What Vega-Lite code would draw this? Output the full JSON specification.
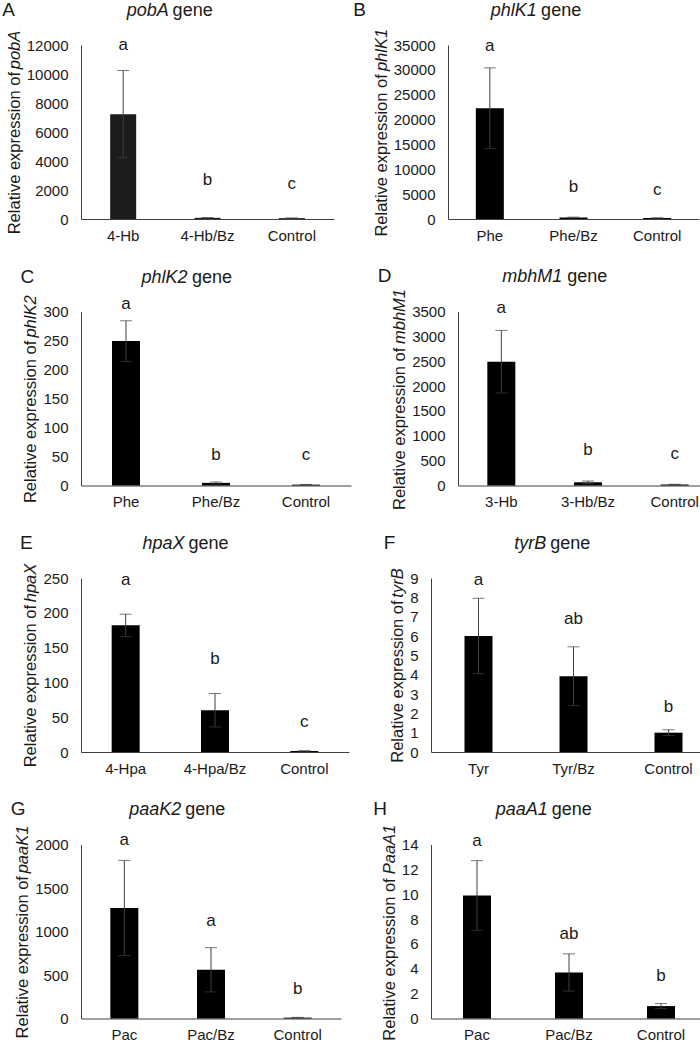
{
  "$schema": "https://vega.github.io/schema/vega-lite/v6.json",
  "padding": {"left": 2, "top": 0, "right": 0, "bottom": 0},
  "background": "white",
  "config": {
    "font": "Liberation Sans",
    "view": {"stroke": null},
    "axis": {"grid": false, "ticks": false, "domainColor": "#404040", "labelColor": "#1a1a1a", "titleColor": "#1a1a1a", "labelFontSize": 15, "titleFontSize": 16.5, "titleFontWeight": "normal", "labelFont": "Liberation Sans", "titleFont": "Liberation Sans"},
    "axisX": {"labelAngle": 0, "labelPadding": 9, "title": null},
    "axisY": {"labelPadding": 13, "titlePadding": 4},
    "title": {"font": "Liberation Sans", "fontWeight": "normal", "color": "#1a1a1a", "subtitleFont": "Liberation Sans", "subtitleColor": "#1a1a1a"}
  },
  "columns": 1,
  "align": "none",
  "spacing": 23.5,
  "concat": [
    {"spacing": 19, "hconcat": [
      {"title": {"text": "A", "anchor": "start", "frame": "bounds", "fontSize": 19, "offset": -18, "dx": -4},
       "vconcat": [{
        "width": 253, "height": 174,
        "title": {"text": "pobA\u00a0\u00a0\u00a0\u00a0\u00a0\u00a0\u00a0\u00a0\u00a0\u200b", "subtitle": "\u200b\u00a0\u00a0\u00a0\u00a0\u00a0\u00a0\u00a0\u00a0\u00a0gene", "fontStyle": "italic", "fontSize": 18, "subtitleFontSize": 18, "subtitleFontStyle": "normal", "subtitlePadding": -18, "frame": "bounds", "anchor": "middle", "offset": 10.5},
        "data": {"values": [
          {"treat": "4-Hb", "mean": 7230, "err": 3010, "sig": "a", "sigY": 12000},
          {"treat": "4-Hb/Bz", "mean": 80, "err": 20, "sig": "b", "sigY": 2710},
          {"treat": "Control", "mean": 60, "err": 10, "sig": "c", "sigY": 2430}
        ]},
        "encoding": {"x": {"field": "treat", "type": "nominal", "sort": null, "scale": {"paddingInner": 0.5, "paddingOuter": 0.25}}},
        "layer": [
          {"mark": {"type": "bar", "size": 26, "color": "#1c1c1c"},
           "encoding": {"y": {"field": "mean", "type": "quantitative", "scale": {"domain": [0, 12000], "nice": false}, "axis": {"values": [0, 2000, 4000, 6000, 8000, 10000, 12000], "format": "d", "title": "Relative expression of\u00a0\u00a0\u00a0\u00a0\u00a0\u00a0\u00a0\u00a0\u00a0\u200b"}}}},
          {"mark": {"type": "errorbar", "color": "#404040", "thickness": 1, "ticks": {"size": 12, "color": "#404040"}},
           "encoding": {"y": {"field": "mean", "type": "quantitative", "scale": {"domain": [0, 12000], "nice": false}, "axis": null}, "yError": {"field": "err"}}},
          {"mark": {"type": "text", "fontSize": 17, "baseline": "middle", "color": "#1a1a1a"},
           "encoding": {"y": {"field": "sigY", "type": "quantitative", "scale": {"domain": [0, 12000], "nice": false}, "axis": {"orient": "left", "values": [0, 2000, 4000, 6000, 8000, 10000, 12000], "format": "d", "labelOpacity": 0, "domain": false, "title": "\u200b\u00a0\u00a0\u00a0\u00a0\u00a0\u00a0\u00a0\u00a0\u00a0\u00a0\u00a0\u00a0\u00a0\u00a0\u00a0\u00a0\u00a0\u00a0\u00a0\u00a0\u00a0\u00a0\u00a0\u00a0\u00a0\u00a0\u00a0\u00a0\u00a0\u00a0\u00a0\u00a0\u00a0\u00a0\u00a0\u00a0pobA", "titleFontStyle": "italic"}}, "text": {"field": "sig"}}}
        ],
        "resolve": {"axis": {"y": "independent"}}
      }]},
      {"title": {"text": "B", "anchor": "start", "frame": "bounds", "fontSize": 19, "offset": -18, "dx": -20},
       "vconcat": [{
        "width": 251, "height": 174,
        "title": {"text": "phlK1\u00a0\u00a0\u00a0\u00a0\u00a0\u00a0\u00a0\u00a0\u00a0\u200b", "subtitle": "\u200b\u00a0\u00a0\u00a0\u00a0\u00a0\u00a0\u00a0\u00a0\u00a0\u00a0gene", "fontStyle": "italic", "fontSize": 18, "subtitleFontSize": 18, "subtitleFontStyle": "normal", "subtitlePadding": -18, "frame": "bounds", "anchor": "middle", "offset": 8.2},
        "data": {"values": [
          {"treat": "Phe", "mean": 22300, "err": 8100, "sig": "a", "sigY": 34880},
          {"treat": "Phe/Bz", "mean": 300, "err": 80, "sig": "b", "sigY": 6380},
          {"treat": "Control", "mean": 200, "err": 30, "sig": "c", "sigY": 5910}
        ]},
        "encoding": {"x": {"field": "treat", "type": "nominal", "sort": null, "scale": {"paddingInner": 0.5, "paddingOuter": 0.25}}},
        "layer": [
          {"mark": {"type": "bar", "size": 28, "color": "#000000"},
           "encoding": {"y": {"field": "mean", "type": "quantitative", "scale": {"domain": [0, 35000], "nice": false}, "axis": {"values": [0, 5000, 10000, 15000, 20000, 25000, 30000, 35000], "format": "d", "title": "Relative expression of\u00a0\u00a0\u00a0\u00a0\u00a0\u00a0\u00a0\u00a0\u00a0\u00a0\u200b"}}}},
          {"mark": {"type": "errorbar", "color": "#404040", "thickness": 1, "ticks": {"size": 12, "color": "#404040"}},
           "encoding": {"y": {"field": "mean", "type": "quantitative", "scale": {"domain": [0, 35000], "nice": false}, "axis": null}, "yError": {"field": "err"}}},
          {"mark": {"type": "text", "fontSize": 17, "baseline": "middle", "color": "#1a1a1a"},
           "encoding": {"y": {"field": "sigY", "type": "quantitative", "scale": {"domain": [0, 35000], "nice": false}, "axis": {"orient": "left", "values": [0, 5000, 10000, 15000, 20000, 25000, 30000, 35000], "format": "d", "labelOpacity": 0, "domain": false, "title": "\u200b\u00a0\u00a0\u00a0\u00a0\u00a0\u00a0\u00a0\u00a0\u00a0\u00a0\u00a0\u00a0\u00a0\u00a0\u00a0\u00a0\u00a0\u00a0\u00a0\u00a0\u00a0\u00a0\u00a0\u00a0\u00a0\u00a0\u00a0\u00a0\u00a0\u00a0\u00a0\u00a0\u00a0\u00a0\u00a0\u00a0phlK1", "titleFontStyle": "italic"}}, "text": {"field": "sig"}}}
        ],
        "resolve": {"axis": {"y": "independent"}}
      }]}
    ]},
    {"spacing": 26, "hconcat": [
      {"title": {"text": "C", "anchor": "start", "frame": "bounds", "fontSize": 19, "offset": -18, "dx": -2.5},
       "vconcat": [{
        "width": 270, "height": 174,
        "title": {"text": "phlK2\u00a0\u00a0\u00a0\u00a0\u00a0\u00a0\u00a0\u00a0\u00a0\u200b", "subtitle": "\u200b\u00a0\u00a0\u00a0\u00a0\u00a0\u00a0\u00a0\u00a0\u00a0\u00a0gene", "fontStyle": "italic", "fontSize": 18, "subtitleFontSize": 18, "subtitleFontStyle": "normal", "subtitlePadding": -18, "frame": "bounds", "anchor": "middle", "offset": 7},
        "data": {"values": [
          {"treat": "Phe", "mean": 249, "err": 35, "sig": "a", "sigY": 313},
          {"treat": "Phe/Bz", "mean": 4.5, "err": 1.5, "sig": "b", "sigY": 53},
          {"treat": "Control", "mean": 1.5, "err": 0.3, "sig": "c", "sigY": 53}
        ]},
        "encoding": {"x": {"field": "treat", "type": "nominal", "sort": null, "scale": {"paddingInner": 0.5, "paddingOuter": 0.25}}},
        "layer": [
          {"mark": {"type": "bar", "size": 28, "color": "#000000"},
           "encoding": {"y": {"field": "mean", "type": "quantitative", "scale": {"domain": [0, 300], "nice": false}, "axis": {"values": [0, 50, 100, 150, 200, 250, 300], "format": "d", "title": "Relative expression of\u00a0\u00a0\u00a0\u00a0\u00a0\u00a0\u00a0\u00a0\u00a0\u00a0\u200b"}}}},
          {"mark": {"type": "errorbar", "color": "#404040", "thickness": 1, "ticks": {"size": 12, "color": "#404040"}},
           "encoding": {"y": {"field": "mean", "type": "quantitative", "scale": {"domain": [0, 300], "nice": false}, "axis": null}, "yError": {"field": "err"}}},
          {"mark": {"type": "text", "fontSize": 17, "baseline": "middle", "color": "#1a1a1a"},
           "encoding": {"y": {"field": "sigY", "type": "quantitative", "scale": {"domain": [0, 300], "nice": false}, "axis": {"orient": "left", "values": [0, 50, 100, 150, 200, 250, 300], "format": "d", "labelOpacity": 0, "domain": false, "title": "\u200b\u00a0\u00a0\u00a0\u00a0\u00a0\u00a0\u00a0\u00a0\u00a0\u00a0\u00a0\u00a0\u00a0\u00a0\u00a0\u00a0\u00a0\u00a0\u00a0\u00a0\u00a0\u00a0\u00a0\u00a0\u00a0\u00a0\u00a0\u00a0\u00a0\u00a0\u00a0\u00a0\u00a0\u00a0\u00a0\u00a0phlK2", "titleFontStyle": "italic"}}, "text": {"field": "sig"}}}
        ],
        "resolve": {"axis": {"y": "independent"}}
      }]},
      {"title": {"text": "D", "anchor": "start", "frame": "bounds", "fontSize": 19, "offset": -18, "dx": -14},
       "vconcat": [{
        "width": 260, "height": 174,
        "title": {"text": "mbhM1\u00a0\u00a0\u00a0\u00a0\u00a0\u00a0\u00a0\u00a0\u00a0\u200b", "subtitle": "\u200b\u00a0\u00a0\u00a0\u00a0\u00a0\u00a0\u00a0\u00a0\u00a0\u00a0\u00a0\u00a0\u00a0gene", "fontStyle": "italic", "fontSize": 18, "subtitleFontSize": 18, "subtitleFontStyle": "normal", "subtitlePadding": -18, "frame": "bounds", "anchor": "middle", "offset": 1.3},
        "data": {"values": [
          {"treat": "3-Hb", "mean": 2490, "err": 630, "sig": "a", "sigY": 3566},
          {"treat": "3-Hb/Bz", "mean": 65, "err": 25, "sig": "b", "sigY": 718},
          {"treat": "Control", "mean": 20, "err": 5, "sig": "c", "sigY": 640}
        ]},
        "encoding": {"x": {"field": "treat", "type": "nominal", "sort": null, "scale": {"paddingInner": 0.5, "paddingOuter": 0.25}}},
        "layer": [
          {"mark": {"type": "bar", "size": 28, "color": "#000000"},
           "encoding": {"y": {"field": "mean", "type": "quantitative", "scale": {"domain": [0, 3500], "nice": false}, "axis": {"values": [0, 500, 1000, 1500, 2000, 2500, 3000, 3500], "format": "d", "title": "Relative expression of\u00a0\u00a0\u00a0\u00a0\u00a0\u00a0\u00a0\u00a0\u00a0\u00a0\u00a0\u00a0\u00a0\u200b"}}}},
          {"mark": {"type": "errorbar", "color": "#404040", "thickness": 1, "ticks": {"size": 12, "color": "#404040"}},
           "encoding": {"y": {"field": "mean", "type": "quantitative", "scale": {"domain": [0, 3500], "nice": false}, "axis": null}, "yError": {"field": "err"}}},
          {"mark": {"type": "text", "fontSize": 17, "baseline": "middle", "color": "#1a1a1a"},
           "encoding": {"y": {"field": "sigY", "type": "quantitative", "scale": {"domain": [0, 3500], "nice": false}, "axis": {"orient": "left", "values": [0, 500, 1000, 1500, 2000, 2500, 3000, 3500], "format": "d", "labelOpacity": 0, "domain": false, "title": "\u200b\u00a0\u00a0\u00a0\u00a0\u00a0\u00a0\u00a0\u00a0\u00a0\u00a0\u00a0\u00a0\u00a0\u00a0\u00a0\u00a0\u00a0\u00a0\u00a0\u00a0\u00a0\u00a0\u00a0\u00a0\u00a0\u00a0\u00a0\u00a0\u00a0\u00a0\u00a0\u00a0\u00a0\u00a0\u00a0\u00a0mbhM1", "titleFontStyle": "italic"}}, "text": {"field": "sig"}}}
        ],
        "resolve": {"axis": {"y": "independent"}}
      }]}
    ]},
    {"spacing": 34, "hconcat": [
      {"title": {"text": "E", "anchor": "start", "frame": "bounds", "fontSize": 19, "offset": -18, "dx": -3},
       "vconcat": [{
        "width": 268, "height": 174,
        "title": {"text": "hpaX\u00a0\u00a0\u00a0\u00a0\u00a0\u00a0\u00a0\u00a0\u00a0\u200b", "subtitle": "\u200b\u00a0\u00a0\u00a0\u00a0\u00a0\u00a0\u00a0\u00a0\u00a0gene", "fontStyle": "italic", "fontSize": 18, "subtitleFontSize": 18, "subtitleFontStyle": "normal", "subtitlePadding": -18, "frame": "bounds", "anchor": "middle", "offset": 10.5},
        "data": {"values": [
          {"treat": "4-Hpa", "mean": 182, "err": 16, "sig": "a", "sigY": 247},
          {"treat": "4-Hpa/Bz", "mean": 60, "err": 24, "sig": "b", "sigY": 134},
          {"treat": "Control", "mean": 1.5, "err": 0.3, "sig": "c", "sigY": 43}
        ]},
        "encoding": {"x": {"field": "treat", "type": "nominal", "sort": null, "scale": {"paddingInner": 0.5, "paddingOuter": 0.25}}},
        "layer": [
          {"mark": {"type": "bar", "size": 28, "color": "#000000"},
           "encoding": {"y": {"field": "mean", "type": "quantitative", "scale": {"domain": [0, 250], "nice": false}, "axis": {"values": [0, 50, 100, 150, 200, 250], "format": "d", "title": "Relative expression of\u00a0\u00a0\u00a0\u00a0\u00a0\u00a0\u00a0\u00a0\u00a0\u200b"}}}},
          {"mark": {"type": "errorbar", "color": "#404040", "thickness": 1, "ticks": {"size": 12, "color": "#404040"}},
           "encoding": {"y": {"field": "mean", "type": "quantitative", "scale": {"domain": [0, 250], "nice": false}, "axis": null}, "yError": {"field": "err"}}},
          {"mark": {"type": "text", "fontSize": 17, "baseline": "middle", "color": "#1a1a1a"},
           "encoding": {"y": {"field": "sigY", "type": "quantitative", "scale": {"domain": [0, 250], "nice": false}, "axis": {"orient": "left", "values": [0, 50, 100, 150, 200, 250], "format": "d", "labelOpacity": 0, "domain": false, "title": "\u200b\u00a0\u00a0\u00a0\u00a0\u00a0\u00a0\u00a0\u00a0\u00a0\u00a0\u00a0\u00a0\u00a0\u00a0\u00a0\u00a0\u00a0\u00a0\u00a0\u00a0\u00a0\u00a0\u00a0\u00a0\u00a0\u00a0\u00a0\u00a0\u00a0\u00a0\u00a0\u00a0\u00a0\u00a0\u00a0\u00a0hpaX", "titleFontStyle": "italic"}}, "text": {"field": "sig"}}}
        ],
        "resolve": {"axis": {"y": "independent"}}
      }]},
      {"title": {"text": "F", "anchor": "start", "frame": "bounds", "fontSize": 19, "offset": -18, "dx": -6},
       "vconcat": [{
        "width": 285, "height": 174,
        "title": {"text": "tyrB\u00a0\u00a0\u00a0\u00a0\u00a0\u00a0\u00a0\u00a0\u00a0\u200b", "subtitle": "\u200b\u00a0\u00a0\u00a0\u00a0\u00a0\u00a0\u00a0gene", "fontStyle": "italic", "fontSize": 18, "subtitleFontSize": 18, "subtitleFontStyle": "normal", "subtitlePadding": -18, "frame": "bounds", "anchor": "middle", "offset": 15.1},
        "data": {"values": [
          {"treat": "Tyr", "mean": 6.0, "err": 1.95, "sig": "a", "sigY": 8.9},
          {"treat": "Tyr/Bz", "mean": 3.92, "err": 1.52, "sig": "ab", "sigY": 6.88},
          {"treat": "Control", "mean": 1.0, "err": 0.15, "sig": "b", "sigY": 2.32}
        ]},
        "encoding": {"x": {"field": "treat", "type": "nominal", "sort": null, "scale": {"paddingInner": 0.5, "paddingOuter": 0.25}}},
        "layer": [
          {"mark": {"type": "bar", "size": 28, "color": "#000000"},
           "encoding": {"y": {"field": "mean", "type": "quantitative", "scale": {"domain": [0, 9], "nice": false}, "axis": {"values": [0, 1, 2, 3, 4, 5, 6, 7, 8, 9], "format": "d", "title": "Relative expression of\u00a0\u00a0\u00a0\u00a0\u00a0\u00a0\u00a0\u200b"}}}},
          {"mark": {"type": "errorbar", "color": "#404040", "thickness": 1, "ticks": {"size": 12, "color": "#404040"}},
           "encoding": {"y": {"field": "mean", "type": "quantitative", "scale": {"domain": [0, 9], "nice": false}, "axis": null}, "yError": {"field": "err"}}},
          {"mark": {"type": "text", "fontSize": 17, "baseline": "middle", "color": "#1a1a1a"},
           "encoding": {"y": {"field": "sigY", "type": "quantitative", "scale": {"domain": [0, 9], "nice": false}, "axis": {"orient": "left", "values": [0, 1, 2, 3, 4, 5, 6, 7, 8, 9], "format": "d", "labelOpacity": 0, "domain": false, "title": "\u200b\u00a0\u00a0\u00a0\u00a0\u00a0\u00a0\u00a0\u00a0\u00a0\u00a0\u00a0\u00a0\u00a0\u00a0\u00a0\u00a0\u00a0\u00a0\u00a0\u00a0\u00a0\u00a0\u00a0\u00a0\u00a0\u00a0\u00a0\u00a0\u00a0\u00a0\u00a0\u00a0\u00a0\u00a0\u00a0\u00a0tyrB", "titleFontStyle": "italic"}}, "text": {"field": "sig"}}}
        ],
        "resolve": {"axis": {"y": "independent"}}
      }]}
    ]},
    {"spacing": 32, "hconcat": [
      {"title": {"text": "G", "anchor": "start", "frame": "bounds", "fontSize": 19, "offset": -18, "dx": -4},
       "vconcat": [{
        "width": 260, "height": 174,
        "title": {"text": "paaK2\u00a0\u00a0\u00a0\u00a0\u00a0\u00a0\u00a0\u00a0\u00a0\u200b", "subtitle": "\u200b\u00a0\u00a0\u00a0\u00a0\u00a0\u00a0\u00a0\u00a0\u00a0\u00a0\u00a0gene", "fontStyle": "italic", "fontSize": 18, "subtitleFontSize": 18, "subtitleFontStyle": "normal", "subtitlePadding": -18, "frame": "bounds", "anchor": "middle", "offset": 5.9},
        "data": {"values": [
          {"treat": "Pac", "mean": 1270, "err": 547, "sig": "a", "sigY": 2046},
          {"treat": "Pac/Bz", "mean": 560, "err": 254, "sig": "a", "sigY": 1121},
          {"treat": "Control", "mean": 10, "err": 3, "sig": "b", "sigY": 337}
        ]},
        "encoding": {"x": {"field": "treat", "type": "nominal", "sort": null, "scale": {"paddingInner": 0.5, "paddingOuter": 0.25}}},
        "layer": [
          {"mark": {"type": "bar", "size": 28, "color": "#000000"},
           "encoding": {"y": {"field": "mean", "type": "quantitative", "scale": {"domain": [0, 2000], "nice": false}, "axis": {"values": [0, 500, 1000, 1500, 2000], "format": "d", "title": "Relative expression of\u00a0\u00a0\u00a0\u00a0\u00a0\u00a0\u00a0\u00a0\u00a0\u00a0\u00a0\u200b"}}}},
          {"mark": {"type": "errorbar", "color": "#404040", "thickness": 1, "ticks": {"size": 12, "color": "#404040"}},
           "encoding": {"y": {"field": "mean", "type": "quantitative", "scale": {"domain": [0, 2000], "nice": false}, "axis": null}, "yError": {"field": "err"}}},
          {"mark": {"type": "text", "fontSize": 17, "baseline": "middle", "color": "#1a1a1a"},
           "encoding": {"y": {"field": "sigY", "type": "quantitative", "scale": {"domain": [0, 2000], "nice": false}, "axis": {"orient": "left", "values": [0, 500, 1000, 1500, 2000], "format": "d", "labelOpacity": 0, "domain": false, "title": "\u200b\u00a0\u00a0\u00a0\u00a0\u00a0\u00a0\u00a0\u00a0\u00a0\u00a0\u00a0\u00a0\u00a0\u00a0\u00a0\u00a0\u00a0\u00a0\u00a0\u00a0\u00a0\u00a0\u00a0\u00a0\u00a0\u00a0\u00a0\u00a0\u00a0\u00a0\u00a0\u00a0\u00a0\u00a0\u00a0\u00a0paaK1", "titleFontStyle": "italic"}}, "text": {"field": "sig"}}}
        ],
        "resolve": {"axis": {"y": "independent"}}
      }]},
      {"title": {"text": "H", "anchor": "start", "frame": "bounds", "fontSize": 19, "offset": -18, "dx": -8},
       "vconcat": [{
        "width": 276, "height": 174,
        "title": {"text": "paaA1\u00a0\u00a0\u00a0\u00a0\u00a0\u00a0\u00a0\u00a0\u00a0\u200b", "subtitle": "\u200b\u00a0\u00a0\u00a0\u00a0\u00a0\u00a0\u00a0\u00a0\u00a0\u00a0\u00a0gene", "fontStyle": "italic", "fontSize": 18, "subtitleFontSize": 18, "subtitleFontStyle": "normal", "subtitlePadding": -18, "frame": "bounds", "anchor": "middle", "offset": 3.6},
        "data": {"values": [
          {"treat": "Pac", "mean": 9.9, "err": 2.8, "sig": "a", "sigY": 14.26},
          {"treat": "Pac/Bz", "mean": 3.7, "err": 1.5, "sig": "ab", "sigY": 6.83},
          {"treat": "Control", "mean": 1.0, "err": 0.2, "sig": "b", "sigY": 3.43}
        ]},
        "encoding": {"x": {"field": "treat", "type": "nominal", "sort": null, "scale": {"paddingInner": 0.5, "paddingOuter": 0.25}}},
        "layer": [
          {"mark": {"type": "bar", "size": 28, "color": "#000000"},
           "encoding": {"y": {"field": "mean", "type": "quantitative", "scale": {"domain": [0, 14], "nice": false}, "axis": {"values": [0, 2, 4, 6, 8, 10, 12, 14], "format": "d", "title": "Relative expression of\u00a0\u00a0\u00a0\u00a0\u00a0\u00a0\u00a0\u00a0\u00a0\u00a0\u00a0\u00a0\u200b"}}}},
          {"mark": {"type": "errorbar", "color": "#404040", "thickness": 1, "ticks": {"size": 12, "color": "#404040"}},
           "encoding": {"y": {"field": "mean", "type": "quantitative", "scale": {"domain": [0, 14], "nice": false}, "axis": null}, "yError": {"field": "err"}}},
          {"mark": {"type": "text", "fontSize": 17, "baseline": "middle", "color": "#1a1a1a"},
           "encoding": {"y": {"field": "sigY", "type": "quantitative", "scale": {"domain": [0, 14], "nice": false}, "axis": {"orient": "left", "values": [0, 2, 4, 6, 8, 10, 12, 14], "format": "d", "labelOpacity": 0, "domain": false, "title": "\u200b\u00a0\u00a0\u00a0\u00a0\u00a0\u00a0\u00a0\u00a0\u00a0\u00a0\u00a0\u00a0\u00a0\u00a0\u00a0\u00a0\u00a0\u00a0\u00a0\u00a0\u00a0\u00a0\u00a0\u00a0\u00a0\u00a0\u00a0\u00a0\u00a0\u00a0\u00a0\u00a0\u00a0\u00a0\u00a0\u00a0PaaA1", "titleFontStyle": "italic"}}, "text": {"field": "sig"}}}
        ],
        "resolve": {"axis": {"y": "independent"}}
      }]}
    ]}
  ]
}
